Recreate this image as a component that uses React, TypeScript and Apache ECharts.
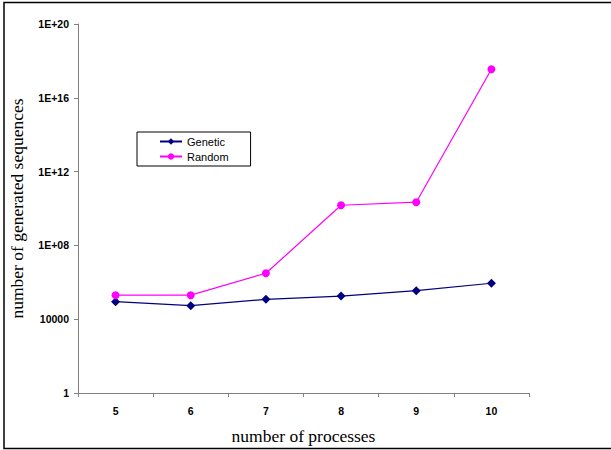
import React, { useEffect, useRef } from "react";
import * as echarts from "echarts";

const categories = ["5", "6", "7", "8", "9", "10"];
const geneticValues = [8.9e4, 5.4e4, 1.2e5, 1.8e5, 3.5e5, 8.9e5];
const randomValues = [2.0e5, 2.0e5, 3.1e6, 1.5e10, 2.2e10, 3.5e17];

function formatTick(v: number): string {
  const e = Math.round(Math.log10(v));
  if (e === 0) return "1";
  if (e === 4) return "10000";
  return "1E+" + (e < 10 ? "0" + e : String(e));
}

export default function App() {
  const ref = useRef<HTMLDivElement>(null);
  useEffect(() => {
    const chart = echarts.init(ref.current!, null, { renderer: "svg" });
    chart.setOption({
      animation: false,
      backgroundColor: "#ffffff",
      graphic: [
        {
          type: "rect",
          shape: { x: 4, y: 2.5, width: 620, height: 446 },
          style: { fill: "none", stroke: "#000", lineWidth: 1.5 },
          silent: true,
        },
      ],
      grid: { left: 72, right: 82, top: 24, bottom: 57 },
      legend: {
        left: 137,
        top: 132,
        orient: "vertical",
        itemWidth: 22,
        itemHeight: 8,
        itemGap: 4,
        padding: [4, 22, 4, 22],
        borderColor: "#000",
        borderWidth: 1,
        backgroundColor: "#fff",
        textStyle: { fontFamily: "Liberation Sans", fontSize: 11, color: "#000" },
        data: ["Genetic", "Random"],
      },
      xAxis: {
        type: "category",
        data: categories,
        boundaryGap: true,
        name: "number of processes",
        nameLocation: "middle",
        nameGap: 34,
        nameTextStyle: { fontFamily: "Liberation Serif", fontSize: 17.5, color: "#000" },
        axisLine: { lineStyle: { color: "#808080", width: 1 } },
        axisTick: { show: true, length: 4, lineStyle: { color: "#808080" } },
        axisLabel: {
          fontFamily: "Liberation Sans",
          fontWeight: "bold",
          fontSize: 10.5,
          color: "#000",
          margin: 12,
        },
        splitLine: { show: false },
      },
      yAxis: {
        type: "log",
        logBase: 10000,
        min: 1,
        max: 1e20,
        name: "number of generated sequences",
        nameLocation: "middle",
        nameGap: 52,
        nameTextStyle: { fontFamily: "Liberation Serif", fontSize: 17.5, color: "#000" },
        axisLine: { show: true, lineStyle: { color: "#808080", width: 1 } },
        axisTick: { show: true, length: 4, lineStyle: { color: "#808080" } },
        axisLabel: {
          fontFamily: "Liberation Sans",
          fontWeight: "bold",
          fontSize: 10.5,
          color: "#000",
          margin: 9,
          formatter: formatTick,
        },
        minorTick: { show: false },
        splitLine: { show: false },
      },
      series: [
        {
          name: "Genetic",
          type: "line",
          data: geneticValues,
          symbol: "diamond",
          symbolSize: 9,
          color: "#000080",
          lineStyle: { color: "#000080", width: 1.2 },
          itemStyle: { color: "#000080" },
        },
        {
          name: "Random",
          type: "line",
          data: randomValues,
          symbol: "circle",
          symbolSize: 8,
          color: "#FF00FF",
          lineStyle: { color: "#FF00FF", width: 1.2 },
          itemStyle: { color: "#FF00FF" },
        },
      ],
    });
    return () => chart.dispose();
  }, []);
  return (
    <div
      ref={ref}
      style={{ position: "absolute", left: 0, top: 0, width: 611, height: 450 }}
    />
  );
}
